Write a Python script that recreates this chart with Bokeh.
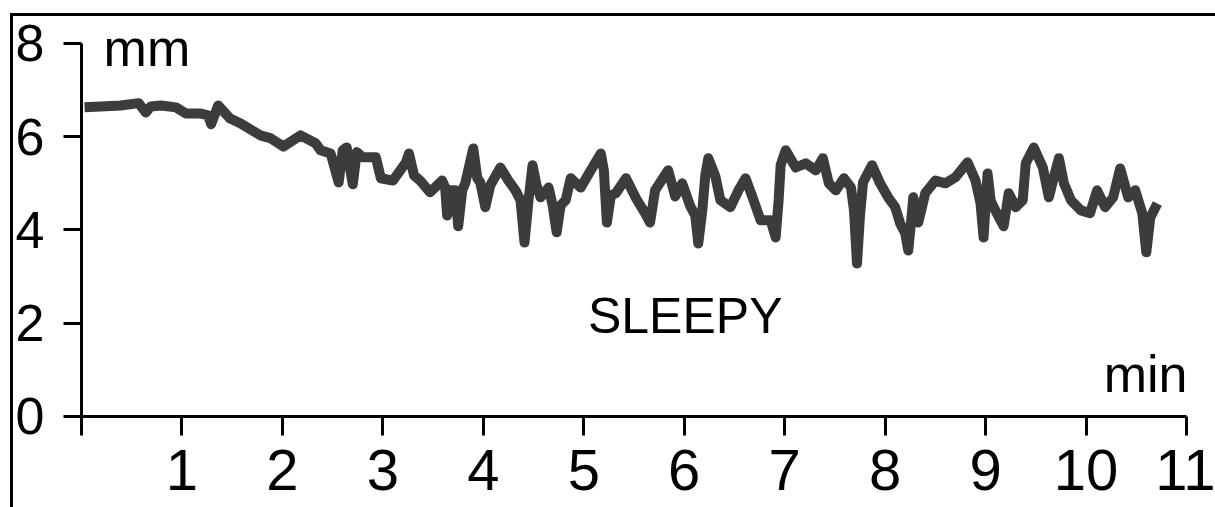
from bokeh.plotting import figure
from bokeh.models import Range1d, FixedTicker, Label
from bokeh.embed import file_html
from bokeh.resources import INLINE

# Pupil diameter trace (mm) over time (min)
time_min = [0.03, 0.19, 0.39, 0.57, 0.64, 0.69, 0.79, 0.94, 1.04, 1.18, 1.26, 1.29, 1.36,
            1.48, 1.58, 1.68, 1.78, 1.88, 2.01, 2.18, 2.33, 2.38, 2.48, 2.56, 2.60, 2.64,
            2.70, 2.74, 2.80, 2.93, 2.98, 3.10, 3.23, 3.26, 3.31, 3.37, 3.47, 3.59, 3.62,
            3.64, 3.67, 3.72, 3.75, 3.79, 3.82, 3.90, 3.94, 3.97, 4.02, 4.07, 4.17, 4.25,
            4.32, 4.37, 4.41, 4.45, 4.49, 4.53, 4.57, 4.65, 4.69, 4.73, 4.77, 4.82, 4.87,
            4.97, 5.07, 5.17, 5.20, 5.23, 5.27, 5.32, 5.42, 5.52, 5.61, 5.66, 5.71, 5.84,
            5.91, 5.98, 6.06, 6.11, 6.14, 6.18, 6.21, 6.24, 6.31, 6.36, 6.46, 6.54, 6.61,
            6.68, 6.76, 6.86, 6.91, 6.94, 6.96, 7.01, 7.11, 7.21, 7.31, 7.38, 7.44, 7.51,
            7.59, 7.66, 7.69, 7.72, 7.75, 7.78, 7.87, 7.95, 8.03, 8.10, 8.15, 8.20, 8.23,
            8.26, 8.28, 8.33, 8.40, 8.50, 8.60, 8.70, 8.82, 8.90, 8.95, 8.98, 9.02, 9.05,
            9.08, 9.18, 9.23, 9.30, 9.37, 9.40, 9.48, 9.57, 9.63, 9.68, 9.73, 9.78, 9.85,
            9.95, 10.04, 10.11, 10.19, 10.27, 10.34, 10.42, 10.49, 10.56, 10.60, 10.64, 10.71]
pupil_mm = [6.63, 6.65, 6.67, 6.72, 6.52, 6.65, 6.67, 6.63, 6.50, 6.50, 6.46, 6.27, 6.67,
            6.39, 6.29, 6.16, 6.03, 5.97, 5.79, 6.03, 5.86, 5.71, 5.64, 5.02, 5.71, 5.77,
            4.98, 5.67, 5.56, 5.56, 5.11, 5.06, 5.45, 5.64, 5.17, 5.06, 4.81, 5.06, 4.91,
            4.31, 4.85, 4.85, 4.08, 4.85, 5.00, 5.75, 5.11, 5.02, 4.49, 4.96, 5.34, 5.06,
            4.85, 4.64, 3.73, 4.64, 5.39, 4.96, 4.70, 4.91, 4.53, 3.95, 4.53, 4.64, 5.11,
            4.91, 5.28, 5.64, 5.28, 4.16, 4.74, 4.79, 5.11, 4.68, 4.36, 4.16, 4.85, 5.28,
            4.72, 5.00, 4.51, 4.31, 3.71, 4.42, 5.17, 5.54, 5.15, 4.64, 4.49, 4.85, 5.11,
            4.70, 4.21, 4.21, 3.84, 4.64, 5.39, 5.71, 5.34, 5.43, 5.28, 5.54, 5.00, 4.85,
            5.11, 4.91, 4.42, 3.28, 4.31, 5.02, 5.39, 5.00, 4.70, 4.49, 4.14, 3.93, 3.56,
            4.21, 4.70, 4.16, 4.79, 5.06, 5.00, 5.13, 5.45, 5.06, 4.57, 3.84, 5.21, 4.64,
            4.49, 4.08, 4.79, 4.49, 4.64, 5.43, 5.77, 5.34, 4.70, 5.13, 5.54, 5.00, 4.64,
            4.42, 4.36, 4.85, 4.49, 4.70, 5.32, 4.70, 4.85, 4.36, 3.52, 4.27, 4.57]

x_ticks = [0, 1, 2, 3, 4, 5, 6, 7, 8, 9, 10, 11]
x_tick_labels = {0: ""}
y_ticks = [0, 2, 4, 6, 8]

FONT = "Liberation Sans"

p = figure(width=1205, height=494, output_backend="svg", toolbar_location=None,
           x_range=Range1d(-0.707, 11.289), y_range=Range1d(-1.952, 8.643),
           min_border_left=0, min_border_right=0, min_border_top=0,
           min_border_bottom=0)
# black frame lines on the top and left of the scanned figure
p.styles = {"margin-top": "13px", "margin-left": "10px",
            "box-shadow": "inset 3px 3px 0 0 black"}
p.outline_line_color = None
p.grid.visible = False
p.background_fill_color = None
p.border_fill_color = None

p.line(time_min, pupil_mm, line_width=10, line_color="#3c3c3c", line_join="round")

for ax in (p.xaxis[0], p.yaxis[0]):
    ax.fixed_location = 0
    ax.axis_line_width = 3
    ax.axis_line_color = "black"
    ax.major_tick_line_width = 3
    ax.major_tick_line_color = "black"
    ax.major_tick_in = 0
    ax.minor_tick_in = 0
    ax.minor_tick_out = 0
    ax.major_label_text_font = FONT
    ax.major_label_text_color = "black"

p.xaxis.bounds = (0, 11)
p.xaxis.ticker = FixedTicker(ticks=x_ticks, minor_ticks=[])
p.xaxis.major_label_overrides = x_tick_labels
p.xaxis.major_tick_out = 19
p.xaxis.major_label_text_font_size = "58px"
p.xaxis.major_label_standoff = 15

p.yaxis.bounds = (0, 8)
p.yaxis.ticker = FixedTicker(ticks=y_ticks, minor_ticks=[])
p.yaxis.major_tick_out = 18
p.yaxis.major_label_text_font_size = "52px"
p.yaxis.major_label_standoff = 19

p.add_layout(Label(x=0.22, y=7.90, text="mm", text_font=FONT, text_font_size="52px",
                   text_color="black", text_align="left", text_baseline="alphabetic"))
p.add_layout(Label(x=11.01, y=0.92, text="min", text_font=FONT, text_font_size="52px",
                   text_color="black", text_align="right", text_baseline="alphabetic"))
p.add_layout(Label(x=6.01, y=2.16, text="SLEEPY", text_font=FONT, text_font_size="50px",
                   text_color="black", text_align="center", text_baseline="alphabetic"))

open("out.html", "w").write(file_html(p, INLINE))
